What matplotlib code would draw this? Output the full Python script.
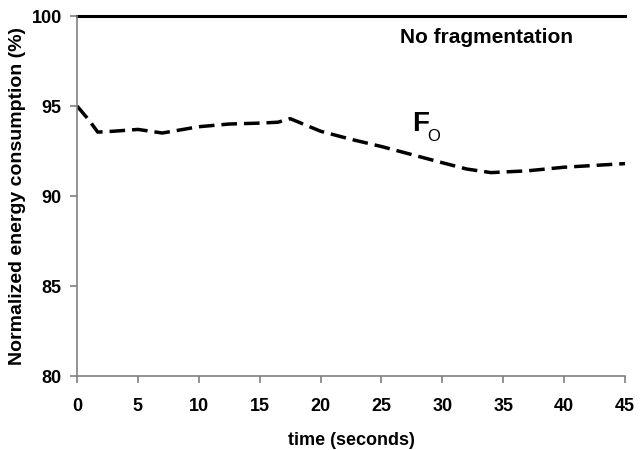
import matplotlib
matplotlib.use("Agg")
import matplotlib.pyplot as plt

# valores
tempo = [0, 1, 1.7, 3, 5, 7, 10, 12.5, 15, 16.5, 17.5, 20, 22.5, 25, 27.5, 30, 32, 34, 37, 40, 42.5, 45]
energia_fo = [95.0, 94.2, 93.55, 93.6, 93.7, 93.5, 93.85, 94.0, 94.05, 94.1, 94.3, 93.6, 93.15, 92.75, 92.3, 91.85, 91.5, 91.3, 91.4, 91.6, 91.7, 91.8]
tempo_nofrag = [0, 45]
energia_nofrag = [100, 100]

plt.rcParams['font.family'] = ['Liberation Sans', 'DejaVu Sans']
plt.rcParams['font.weight'] = 'bold'

fig = plt.figure(figsize=(6.42, 4.5), dpi=100)
ax = fig.add_axes([0.12, 0.1644, 0.8535, 0.80])

ax.plot(tempo_nofrag, energia_nofrag, color="black", linewidth=2.2, clip_on=False)
ax.plot(tempo, energia_fo, color="black", linewidth=2.5, dashes=(4.5, 2))

ax.set_xlim(0, 45)
ax.set_ylim(80, 100)
ax.set_xticks(range(0, 46, 5))
ax.set_yticks(range(80, 101, 5))

for lado in ["top", "right"]:
    ax.spines[lado].set_visible(False)
for lado in ["left", "bottom"]:
    ax.spines[lado].set_color("#808080")
    ax.spines[lado].set_linewidth(1.2)
ax.tick_params(axis="both", colors="#808080", length=5, width=1.2, labelsize=13, labelcolor="black")
for lbl in ax.get_xticklabels() + ax.get_yticklabels():
    lbl.set_fontweight("bold")
ax.tick_params(axis="x", pad=11)
ax.tick_params(axis="y", pad=6)

ax.set_xlabel("time (seconds)", fontsize=13, fontweight="bold", labelpad=12)
ax.set_ylabel("Normalized energy consumption (%)", fontsize=14, fontweight="bold", labelpad=4)

ax.text(26.5, 98.8, "No fragmentation", fontsize=15, fontweight="bold", va="center", ha="left")
ax.text(27.5, 93.3, "F", fontsize=20, fontweight="bold", va="bottom", ha="left")
ax.text(28.8, 92.9, "O", fontsize=12, fontweight="normal", va="bottom", ha="left")

fig.savefig("out.png", dpi=100)
